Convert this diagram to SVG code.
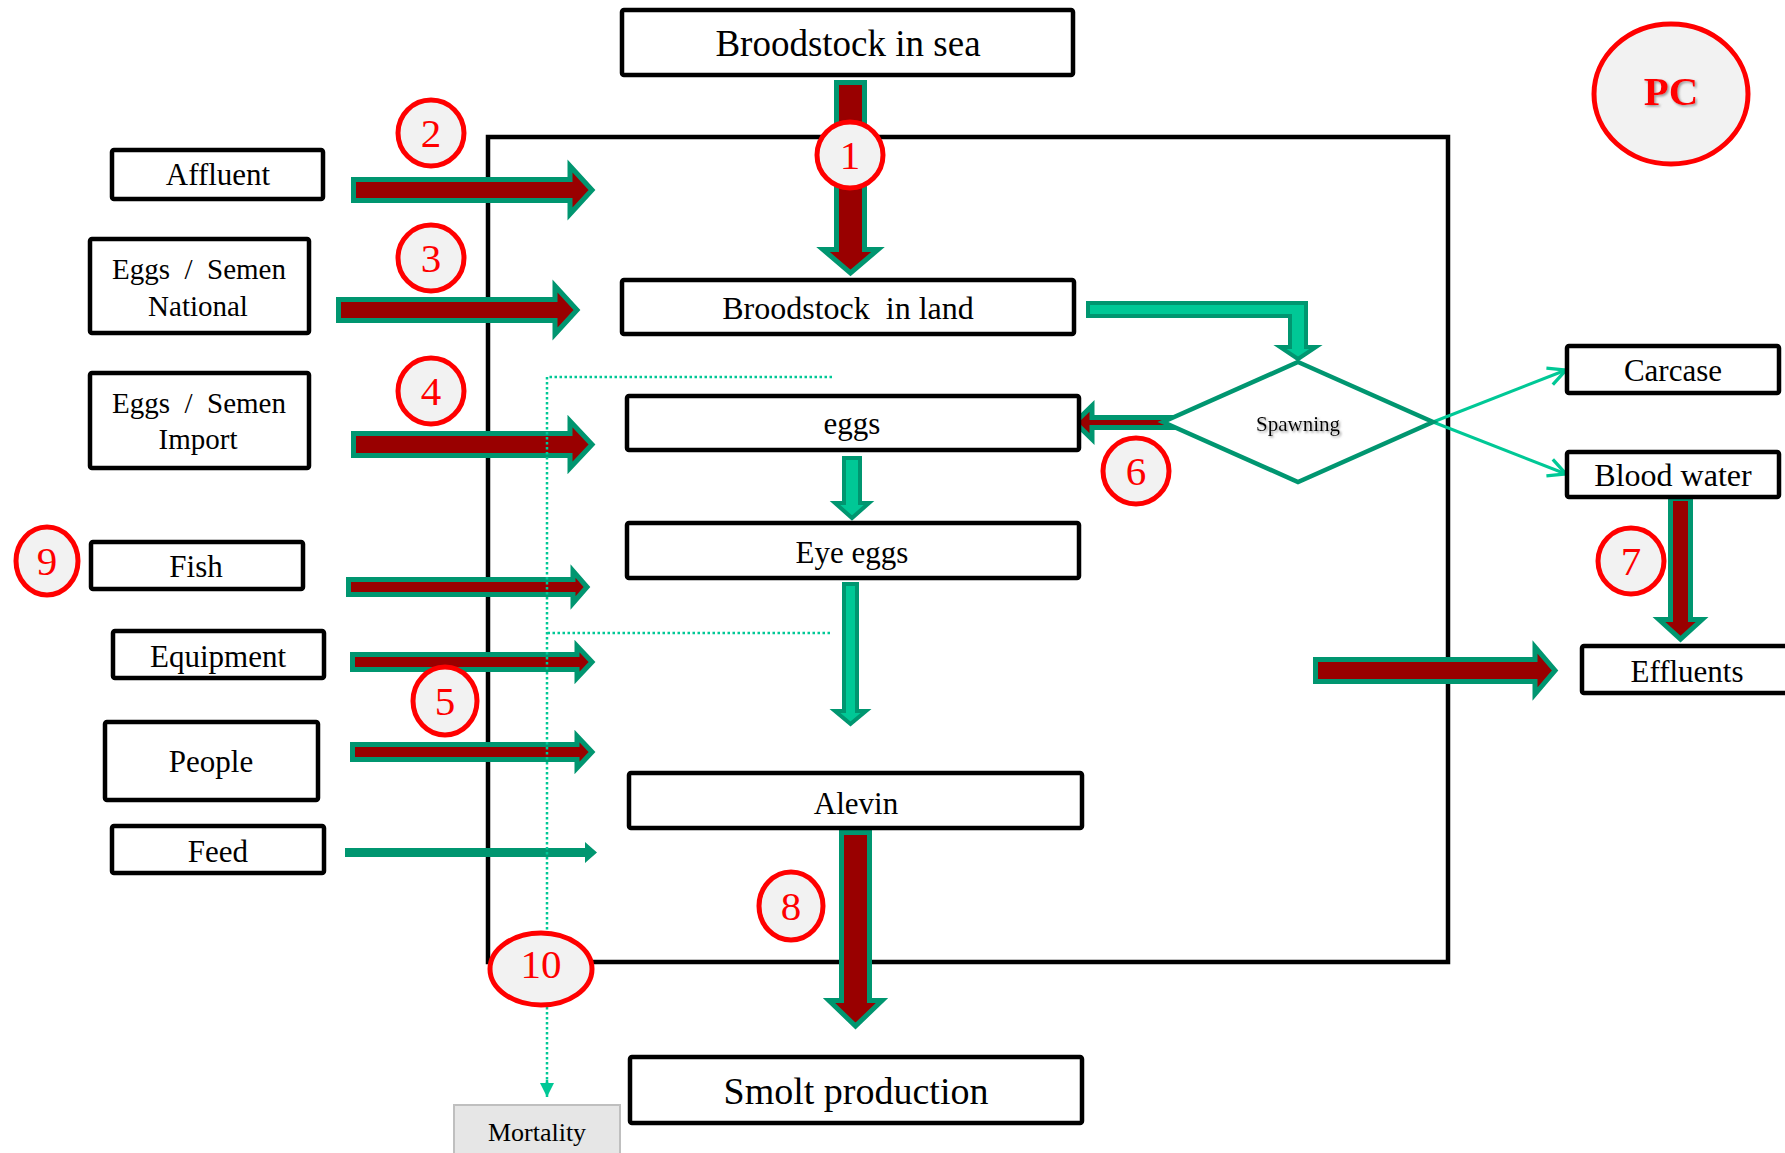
<svg xmlns="http://www.w3.org/2000/svg" width="1785" height="1153" viewBox="0 0 1785 1153">
<defs>
<style>
.box{fill:#fff;stroke:#000;stroke-width:4.5}
.t{font-family:"Liberation Serif","Times New Roman",serif;fill:#000;text-anchor:middle}
.num{font-family:"Liberation Serif","Times New Roman",serif;fill:#ff0000;text-anchor:middle;font-size:41px}
.badge{fill:#f2f2f2;stroke:#ff0000;stroke-width:5}
.red{fill:#990000;stroke:#009670;stroke-width:5;stroke-linejoin:miter}
.lg{fill:#00c896;stroke:#009670;stroke-width:4;stroke-linejoin:miter}
.thin{fill:none;stroke:#00c896;stroke-width:3}
.dot{fill:none;stroke:#00c896;stroke-width:2.5;stroke-dasharray:2.5 2.5}
</style>
<marker id="open" viewBox="0 0 20 20" refX="18" refY="10" markerWidth="22" markerHeight="22" markerUnits="userSpaceOnUse" orient="auto">
<path d="M2,2 L18,10 L2,18" fill="none" stroke="#00c896" stroke-width="3"/>
</marker>
<marker id="tri" viewBox="0 0 10 10" refX="10" refY="5" markerWidth="16" markerHeight="14" markerUnits="userSpaceOnUse" orient="auto">
<path d="M0,0 L10,5 L0,10 Z" fill="#00c896"/>
</marker>
<filter id="sh" x="-20%" y="-20%" width="140%" height="140%">
<feDropShadow dx="1.5" dy="1.5" stdDeviation="1" flood-color="#808080" flood-opacity="0.8"/>
</filter>
</defs>

<rect x="0" y="0" width="1785" height="1153" fill="#fff"/>

<g id="frame">
<rect x="488" y="137" width="960" height="825" fill="none" stroke="#000" stroke-width="4.5"/>
</g>

<g id="connectors">
<path class="red" d="M836.5,82.5 V249.5 H823 L850.5,273 L878,249.5 H864.5 V82.5 Z"/>
<path class="red" d="M353.5,179.5 H570 V166 L592,190 L570,214 V200.5 H353.5 Z"/>
<path class="red" d="M338.5,299.5 H555 V286 L577,310 L555,334 V320.5 H338.5 Z"/>
<path class="red" d="M353.5,433.5 H570 V421 L592,444.5 L570,468 V455.5 H353.5 Z"/>
<path class="red" d="M348.5,579.5 H573 V571 L587,587 L573,603 V594.5 H348.5 Z"/>
<path class="red" d="M352.5,654.5 H577 V646 L592,662 L577,678 V669.5 H352.5 Z"/>
<path class="red" d="M352.5,744.5 H577 V736 L592,752 L577,768 V759.5 H352.5 Z"/>
<path d="M345,848 H585 V842 L597,852.5 L585,863 V857 H345 Z" fill="#009670"/>
<path class="red" d="M841.5,832.5 V1000.5 H829 L855.5,1026 L882,1000.5 H869.5 V832.5 Z"/>
<path class="red" d="M1670.5,498.5 V619.5 H1659 L1680.5,639 L1702,619.5 H1690.5 V498.5 Z"/>
<path class="red" d="M1315.5,659.5 H1535 V647 L1555,670.5 L1535,694 V681.5 H1315.5 Z"/>
<path class="red" d="M1180,417.5 H1092 V406 L1075,422.5 L1092,439 V427.5 H1180 Z"/>
<path class="lg" d="M1088,303 H1306 V347 H1316 L1298,359 L1280,347 H1290 V316 H1088 Z"/>
<path class="lg" d="M844,458 V503 H835 L852,518 L869,503 H860 V458 Z"/>
<path class="lg" d="M844,584 V711 H835 L850.5,724 L866,711 H857 V584 Z"/>
<line class="thin" x1="1433" y1="422" x2="1566" y2="370" marker-end="url(#open)"/>
<line class="thin" x1="1433" y1="422" x2="1566" y2="474" marker-end="url(#open)"/>
<path class="dot" d="M832,377 H547 V1084"/>
<path class="dot" d="M830,633 H547"/>
<line x1="547" y1="1080" x2="547" y2="1097" stroke="#00c896" stroke-width="2.5" marker-end="url(#tri)"/>
</g>

<g id="spawning">
<polygon points="1298,362 1433,422 1298,482 1163,422" fill="#fff" stroke="#009670" stroke-width="4.5"/>
<text class="t" x="1298" y="431" font-size="21" filter="url(#sh)">Spawning</text>
</g>

<g id="broodstock-sea"><rect class="box" x="622" y="10" width="451" height="65" rx="2"/><text class="t" x="848" y="56" font-size="37">Broodstock in sea</text></g>
<g id="broodstock-land"><rect class="box" x="622" y="280" width="452" height="54" rx="2"/><text class="t" x="848" y="319" font-size="32" xml:space="preserve">Broodstock  in land</text></g>
<g id="eggs"><rect class="box" x="627" y="396" width="452" height="54" rx="2"/><text class="t" x="852" y="434" font-size="31">eggs</text></g>
<g id="eye-eggs"><rect class="box" x="627" y="523" width="452" height="55" rx="2"/><text class="t" x="852" y="563" font-size="31">Eye eggs</text></g>
<g id="alevin"><rect class="box" x="629" y="773" width="453" height="55" rx="2"/><text class="t" x="856" y="814" font-size="31">Alevin</text></g>
<g id="smolt"><rect class="box" x="630" y="1057" width="452" height="66" rx="2"/><text class="t" x="856" y="1104" font-size="38">Smolt production</text></g>

<g id="affluent"><rect class="box" x="112" y="150" width="211" height="49" rx="2"/><text class="t" x="218" y="185" font-size="31">Affluent</text></g>
<g id="eggs-national"><rect class="box" x="90" y="239" width="219" height="94" rx="2"/><text class="t" x="199" y="279" font-size="29" xml:space="preserve">Eggs  /  Semen</text><text class="t" x="198" y="316" font-size="29">National</text></g>
<g id="eggs-import"><rect class="box" x="90" y="373" width="219" height="95" rx="2"/><text class="t" x="199" y="413" font-size="29" xml:space="preserve">Eggs  /  Semen</text><text class="t" x="198" y="449" font-size="29">Import</text></g>
<g id="fish"><rect class="box" x="91" y="542" width="212" height="47" rx="2"/><text class="t" x="196" y="577" font-size="31">Fish</text></g>
<g id="equipment"><rect class="box" x="113" y="631" width="211" height="47" rx="2"/><text class="t" x="218" y="667" font-size="31">Equipment</text></g>
<g id="people"><rect class="box" x="105" y="722" width="213" height="78" rx="2"/><text class="t" x="211" y="772" font-size="31">People</text></g>
<g id="feed"><rect class="box" x="112" y="826" width="212" height="47" rx="2"/><text class="t" x="218" y="862" font-size="31">Feed</text></g>

<g id="carcase"><rect class="box" x="1567" y="346" width="212" height="47" rx="2"/><text class="t" x="1673" y="381" font-size="31">Carcase</text></g>
<g id="blood-water"><rect class="box" x="1567" y="452" width="212" height="45" rx="2"/><text class="t" x="1673" y="486" font-size="32">Blood water</text></g>
<g id="effluents"><rect class="box" x="1582" y="646" width="220" height="47" rx="2"/><text class="t" x="1687" y="682" font-size="31">Effluents</text></g>
<g id="mortality"><rect x="454" y="1105" width="166" height="60" fill="#e6e6e6" stroke="#bfbfbf" stroke-width="2"/><text class="t" x="537" y="1141" font-size="26">Mortality</text></g>

<g id="badge-1"><circle class="badge" cx="850" cy="155" r="33"/><text class="num" x="850" y="169">1</text></g>
<g id="badge-2"><circle class="badge" cx="431" cy="133" r="33"/><text class="num" x="431" y="147">2</text></g>
<g id="badge-3"><circle class="badge" cx="431" cy="258" r="33"/><text class="num" x="431" y="272">3</text></g>
<g id="badge-4"><circle class="badge" cx="431" cy="391" r="33"/><text class="num" x="431" y="405">4</text></g>
<g id="badge-5"><ellipse class="badge" cx="445" cy="701" rx="32" ry="34"/><text class="num" x="445" y="715">5</text></g>
<g id="badge-6"><circle class="badge" cx="1136" cy="471" r="33"/><text class="num" x="1136" y="485">6</text></g>
<g id="badge-7"><circle class="badge" cx="1631" cy="561" r="33"/><text class="num" x="1631" y="575">7</text></g>
<g id="badge-8"><ellipse class="badge" cx="791" cy="906" rx="32" ry="34"/><text class="num" x="791" y="920">8</text></g>
<g id="badge-9"><ellipse class="badge" cx="47" cy="561" rx="31" ry="34"/><text class="num" x="47" y="575">9</text></g>
<g id="badge-10"><ellipse class="badge" cx="541" cy="969" rx="51" ry="36"/><text class="num" x="541" y="978" font-size="26">10</text></g>
<g id="badge-pc"><ellipse class="badge" cx="1671" cy="94" rx="77" ry="70"/><text class="num" x="1671" y="105" font-size="27" font-weight="bold" filter="url(#sh)">PC</text></g>
</svg>
